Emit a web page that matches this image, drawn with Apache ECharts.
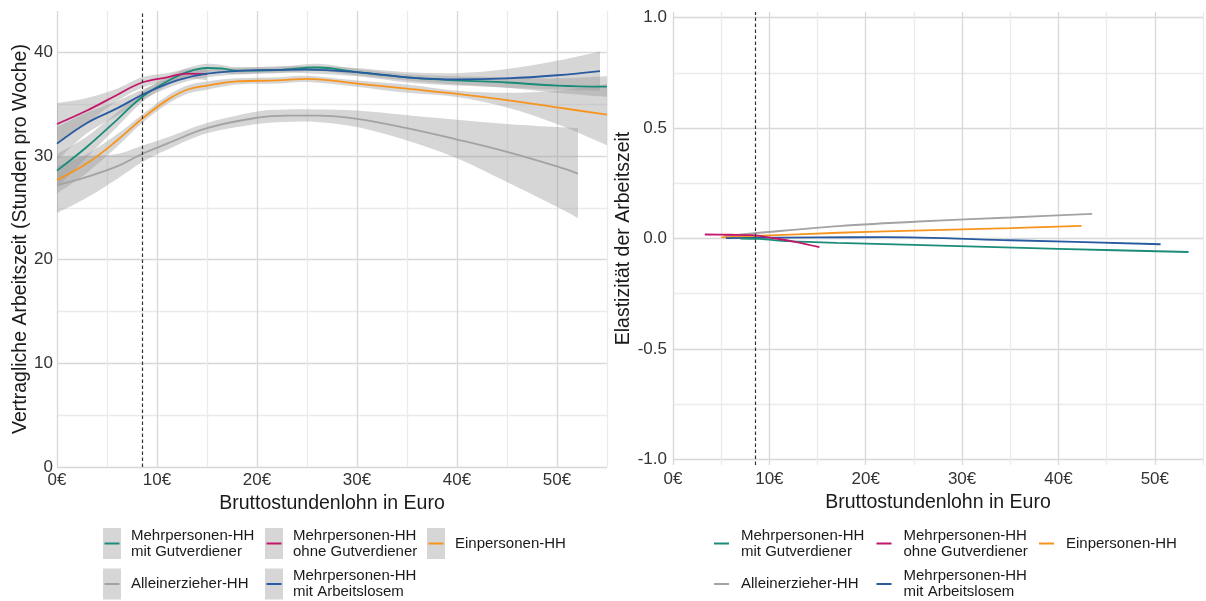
<!DOCTYPE html>
<html>
<head>
<meta charset="utf-8">
<script src="https://cdn.jsdelivr.net/npm/echarts@6/dist/echarts.min.js"></script>
<style>
  html, body { margin: 0; padding: 0; background: #fff; }
  #main { width: 1206px; height: 601px; }
</style>
</head>
<body>
<div id="main"></div>
<script>
// Namen der Haushaltstypen
const nameGut = 'Mehrpersonen-HH\nmit Gutverdiener';
const nameOhne = 'Mehrpersonen-HH\nohne Gutverdiener';
const nameEin = 'Einpersonen-HH';
const nameAllein = 'Alleinerzieher-HH';
const nameArb = 'Mehrpersonen-HH\nmit Arbeitslosem';
const legendNames = [nameGut, nameOhne, nameEin, nameAllein, nameArb];

const minWage = 8.5;

// linkes Panel: vertragliche Arbeitszeit (geglättet) mit Konfidenzband
const ohneX = [0, 3, 6, 8.5, 11, 13, 15];
const ohneY = [33.1, 34.4, 35.9, 37.1, 37.6, 37.95, 37.9];
const ohneHi = [35.1, 35.6, 36.5, 37.6, 38.0, 38.4, 38.5];
const ohneLo = [31.1, 33.2, 35.3, 36.6, 37.2, 37.5, 37.3];

const arbX = [0, 3, 6, 8.5, 12, 15, 20, 25, 30, 35, 40, 45, 50, 54.3];
const arbY = [31.2, 33.2, 34.6, 35.9, 37.3, 37.95, 38.3, 38.35, 38.1, 37.6, 37.4, 37.5, 37.8, 38.2];
const arbHi = [32.8, 34.2, 35.3, 36.4, 37.7, 38.3, 38.6, 38.7, 38.5, 38.1, 38.0, 38.4, 39.2, 40.1];
const arbLo = [29.6, 32.2, 33.9, 35.4, 36.9, 37.6, 38.0, 38.0, 37.7, 37.1, 36.8, 36.6, 36.4, 36.3];

const gutX = [0, 3, 6, 8.5, 11, 13, 15, 16.5, 18, 22, 26, 30, 35, 40, 45, 50, 55];
const gutY = [28.6, 30.9, 33.5, 35.7, 37.2, 38.1, 38.5, 38.45, 38.25, 38.3, 38.55, 38.1, 37.6, 37.3, 37.1, 36.8, 36.7];
const gutHi = [30.2, 31.9, 34.2, 36.2, 37.6, 38.5, 38.9, 38.8, 38.6, 38.6, 38.9, 38.4, 37.9, 37.7, 37.6, 37.5, 37.7];
const gutLo = [27.0, 29.9, 32.8, 35.2, 36.8, 37.7, 38.1, 38.1, 37.9, 38.0, 38.2, 37.8, 37.3, 36.9, 36.6, 36.1, 35.7];

const einX = [0, 3, 6, 8.5, 11, 13, 15, 18, 22, 25, 30, 35, 40, 45, 50, 55];
const einY = [27.7, 29.3, 31.5, 33.6, 35.4, 36.4, 36.8, 37.2, 37.3, 37.45, 37.0, 36.5, 36.0, 35.4, 34.7, 34.0];
const einHi = [29.0, 30.2, 32.1, 34.0, 35.8, 36.8, 37.2, 37.5, 37.6, 37.75, 37.3, 36.9, 36.3, 36.1, 36.3, 36.95];
const einLo = [26.4, 28.4, 30.9, 33.2, 35.0, 36.0, 36.4, 36.9, 37.0, 37.15, 36.7, 36.1, 35.7, 34.7, 33.1, 31.05];

const alleinX = [0, 3, 6, 8.5, 11, 15, 20, 23, 26, 30, 35, 40, 45, 50, 52.1];
const alleinY = [27.2, 28.0, 29.0, 30.2, 31.2, 32.7, 33.7, 33.9, 33.9, 33.6, 32.7, 31.6, 30.4, 29.0, 28.3];
const alleinHi = [29.9, 30.0, 30.2, 31.0, 31.8, 33.2, 34.3, 34.5, 34.5, 34.4, 33.95, 33.5, 33.1, 32.8, 32.7];
const alleinLo = [24.5, 26.0, 27.8, 29.4, 30.6, 32.2, 33.1, 33.3, 33.3, 32.8, 31.5, 29.8, 27.5, 25.1, 24.0];

// rechtes Panel: Elastizität der Arbeitszeit
const elOhneX = [3.3, 6, 8.2, 10.7, 12.8, 15.2];
const elOhneY = [0.018, 0.017, 0.015, 0.0, -0.016, -0.039];
const elGutX = [7, 9, 12, 17, 25, 40, 53.5];
const elGutY = [0.0, -0.002, -0.012, -0.02, -0.029, -0.047, -0.061];
const elArbX = [5.5, 15, 22, 35, 50.6];
const elArbY = [0.002, 0.005, 0.006, -0.008, -0.026];
const elEinX = [5, 10, 17.2, 25, 35, 42.4];
const elEinY = [0.005, 0.014, 0.026, 0.036, 0.047, 0.057];
const elAlleinX = [5.3, 8.5, 17.2, 25.5, 35, 43.5];
const elAlleinY = [0.012, 0.024, 0.056, 0.077, 0.095, 0.111];

const colors = {};
colors[nameGut] = '#1b8c78';
colors[nameOhne] = '#c4166a';
colors[nameEin] = '#f7941d';
colors[nameAllein] = '#a3a3a3';
colors[nameArb] = '#285aa0';

const font = 'Liberation Sans, Arial, sans-serif';

function pairs(xs, ys) {
  return xs.map((x, i) => [x, ys[i]]);
}

function lineSeries(name, xs, ys, idx, smooth) {
  return {
    name: name,
    type: 'line',
    xAxisIndex: idx,
    yAxisIndex: idx,
    data: pairs(xs, ys),
    symbol: 'none',
    smooth: smooth,
    z: 3,
    lineStyle: { color: colors[name], width: 1.8 },
    itemStyle: { color: colors[name] },
    emphasis: { disabled: true }
  };
}

// Catmull-Rom-Kurve durch Pixelpunkte als Bezier-Segmente
function curvePath(p, start) {
  let d = (start ? 'M' : 'L') + p[0][0] + ',' + p[0][1];
  for (let i = 0; i < p.length - 1; i++) {
    const a = p[Math.max(i - 1, 0)], b = p[i], c = p[i + 1], e = p[Math.min(i + 2, p.length - 1)];
    const c1 = [b[0] + (c[0] - a[0]) / 6, b[1] + (c[1] - a[1]) / 6];
    const c2 = [c[0] - (e[0] - b[0]) / 6, c[1] - (e[1] - b[1]) / 6];
    d += 'C' + c1[0] + ',' + c1[1] + ' ' + c2[0] + ',' + c2[1] + ' ' + c[0] + ',' + c[1];
  }
  return d;
}

// Konfidenzband als Fläche zwischen oberer und unterer Grenze
function bandSeries(xs, lo, hi) {
  return {
    type: 'custom',
    xAxisIndex: 0,
    yAxisIndex: 0,
    silent: true,
    z: 1,
    data: [[xs[0], lo[0]]],
    renderItem: function (params, api) {
      const up = xs.map((x, i) => api.coord([x, hi[i]]));
      const dn = xs.map((x, i) => api.coord([x, lo[i]])).reverse();
      const d = curvePath(up, true) + curvePath(dn, false) + 'Z';
      return {
        type: 'path',
        shape: { pathData: d },
        style: { fill: 'rgba(153,153,153,0.4)' }
      };
    }
  };
}

const wageLine = {
  silent: true,
  symbol: ['none', 'none'],
  label: { show: false },
  lineStyle: { type: [3.5, 2.5], color: '#333', width: 1.2 },
  emphasis: { disabled: true },
  data: [{ xAxis: minWage }]
};

const gridColors = ['#d8d8d8', '#ebebeb'];

function xAxisDef(idx, margin, gap) {
  return {
    type: 'value', gridIndex: idx, min: 0, max: 55, interval: 5,
    name: 'Bruttostundenlohn in Euro', nameLocation: 'middle', nameGap: gap,
    nameTextStyle: { fontFamily: font, fontSize: 19.5, color: '#1a1a1a' },
    axisLine: { show: false }, axisTick: { show: false },
    axisLabel: {
      margin: margin, fontFamily: font, fontSize: 17, color: '#333',
      formatter: v => (v % 10 === 0 ? v + '€' : '')
    },
    splitLine: { show: true, lineStyle: { color: gridColors, width: 1.3 } }
  };
}

const ohneLine = lineSeries(nameOhne, ohneX, ohneY, 0, 0.4);
ohneLine.markLine = wageLine;
const elOhneLine = lineSeries(nameOhne, elOhneX, elOhneY, 1, 0.3);
elOhneLine.markLine = wageLine;

// Legendenlinie 15x31 (kleine Eckpunkte halten die Höhe fest)
const lineIcon = 'path://M0,0h0.01v0.01h-0.01Z M0,14.6H15V16.4H0Z M14.99,30.99h0.01v0.01h-0.01Z';

const legendCommon = {
  orient: 'horizontal',
  top: 527.5,
  width: 500,
  padding: 0,
  itemGap: 8.5,
  itemHeight: 31,
  selectedMode: false,
  data: legendNames
};

const option = {
  animation: false,
  backgroundColor: '#fff',
  grid: [
    { left: 57, right: 599, top: 11, bottom: 134 },
    { left: 673, right: 1, top: 12, bottom: 136 }
  ],
  xAxis: [xAxisDef(0, 5, 20), xAxisDef(1, 6, 22)],
  yAxis: [
    {
      type: 'value', gridIndex: 0, min: 0, max: 44, interval: 5,
      name: 'Vertragliche Arbeitszeit (Stunden pro Woche)', nameLocation: 'middle', nameGap: 20,
      nameTextStyle: { fontFamily: font, fontSize: 19.5, color: '#1a1a1a' },
      axisLine: { show: false }, axisTick: { show: false },
      axisLabel: {
        margin: 4, fontFamily: font, fontSize: 17, color: '#333',
        formatter: v => (v % 10 === 0 ? String(v) : '')
      },
      splitLine: { show: true, showMaxLine: false, lineStyle: { color: gridColors, width: 1.3 } }
    },
    {
      type: 'value', gridIndex: 1, min: -1.025, max: 1.025,
      minInterval: 0.25, maxInterval: 0.25,
      name: 'Elastizität der Arbeitszeit', nameLocation: 'middle', nameGap: 33,
      nameTextStyle: { fontFamily: font, fontSize: 19.5, color: '#1a1a1a' },
      axisLine: { show: false }, axisTick: { show: false },
      axisLabel: {
        margin: 6, fontFamily: font, fontSize: 17, color: '#333',
        showMinLabel: false, showMaxLabel: false,
        formatter: v => (Math.abs(v * 2 - Math.round(v * 2)) < 1e-9 ? v.toFixed(1) : '')
      },
      splitLine: { show: true, showMinLine: false, showMaxLine: false, lineStyle: { color: gridColors, width: 1.3 } }
    }
  ],
  legend: [
    // graue Kästchen hinter den Linien (ggplot-Schlüssel)
    Object.assign({}, legendCommon, {
      left: 103, z: 4, itemWidth: 18,
      icon: 'path://M0,0H18V31H0Z',
      itemStyle: { color: '#d6d6d6', borderWidth: 0, borderColor: 'transparent' },
      textStyle: { fontFamily: font, fontSize: 15, lineHeight: 16, width: 127, padding: [0, 0, 0, 3.5], color: 'rgba(0,0,0,0)' }
    }),
    Object.assign({}, legendCommon, {
      left: 104.5, z: 5, itemWidth: 15,
      icon: lineIcon,
      itemStyle: { borderWidth: 0, borderColor: 'transparent' },
      textStyle: { fontFamily: font, fontSize: 15, lineHeight: 16, width: 127, padding: [0, 0, 0, 6.5], color: '#1a1a1a' }
    }),
    Object.assign({}, legendCommon, {
      left: 714, z: 5, itemWidth: 15,
      icon: lineIcon,
      itemStyle: { borderWidth: 0, borderColor: 'transparent' },
      textStyle: { fontFamily: font, fontSize: 15, lineHeight: 16, width: 127, padding: [0, 0, 0, 7], color: '#1a1a1a' }
    })
  ],
  series: [
    lineSeries(nameGut, gutX, gutY, 0, 0.4),
    ohneLine,
    lineSeries(nameEin, einX, einY, 0, 0.4),
    lineSeries(nameAllein, alleinX, alleinY, 0, 0.4),
    lineSeries(nameArb, arbX, arbY, 0, 0.4),
    bandSeries(ohneX, ohneLo, ohneHi),
    bandSeries(arbX, arbLo, arbHi),
    bandSeries(gutX, gutLo, gutHi),
    bandSeries(einX, einLo, einHi),
    bandSeries(alleinX, alleinLo, alleinHi),
    lineSeries(nameAllein, elAlleinX, elAlleinY, 1, 0.3),
    lineSeries(nameEin, elEinX, elEinY, 1, 0.3),
    lineSeries(nameArb, elArbX, elArbY, 1, 0.3),
    lineSeries(nameGut, elGutX, elGutY, 1, 0.3),
    elOhneLine
  ]
};

const chart = echarts.init(document.getElementById('main'));
chart.setOption(option);
</script>
</body>
</html>
